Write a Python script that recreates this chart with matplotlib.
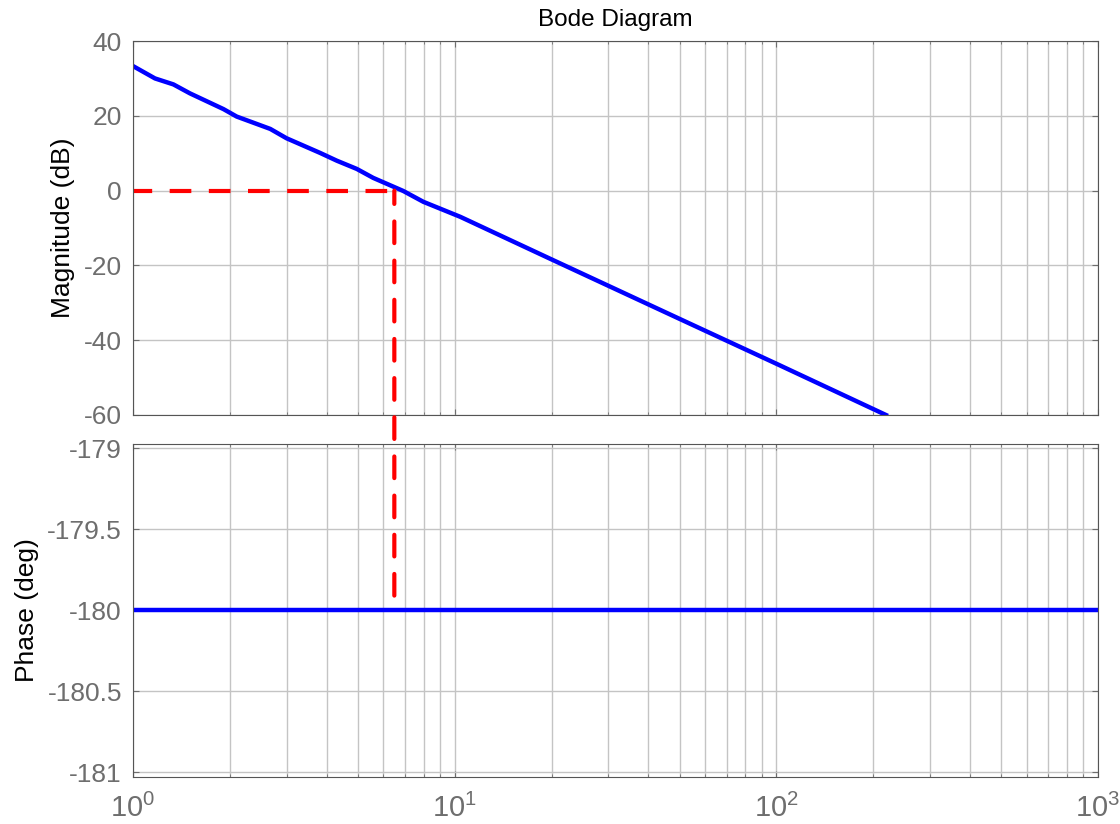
import numpy as np
import matplotlib
matplotlib.use('Agg')
import matplotlib.pyplot as plt
from matplotlib.patches import ConnectionPatch

plt.rcParams['font.family'] = ['Liberation Sans', 'DejaVu Sans']
plt.rcParams['mathtext.fontset'] = 'custom'
plt.rcParams['mathtext.rm'] = 'Liberation Sans'
plt.rcParams['axes.unicode_minus'] = False

# magnitude curve (rad/s, dB)
freq = [1.0, 1.17, 1.335, 1.503, 1.91, 2.1, 2.67, 3.0, 3.81, 4.3, 4.96,
        5.58, 6.92, 7.99, 10.4, 20.0, 50.0, 100.0, 219.0]
mag_db = [33.3, 30.0, 28.4, 26.0, 21.8, 19.8, 16.5, 14.0, 10.1, 8.0, 5.8,
          3.4, -0.1, -3.0, -7.0, -18.4, -34.3, -46.3, -60.0]
phase_freq = [1.0, 1000.0]
phase_deg = [-180.0, -180.0]

w_cross = 6.49  # crossover marker

tick_col = '#6e6e6e'
grid_col = '#c4c4c4'

fig = plt.figure(figsize=(11.2, 8.24), dpi=100)
ax1 = fig.add_axes([0.1188, 0.4964, 0.8616, 0.4538])
ax2 = fig.add_axes([0.1188, 0.0570, 0.8616, 0.4042])

for ax in (ax1, ax2):
    ax.set_xscale('log')
    ax.set_xlim(1, 1000)
    ax.grid(True, which='major', axis='both', color=grid_col, lw=1.0)
    ax.grid(True, which='minor', axis='x', color=grid_col, lw=1.0)
    ax.tick_params(which='both', direction='in', top=True, right=True,
                   colors=tick_col, length=4)
    ax.tick_params(axis='y', labelsize=19, pad=8)
    ax.tick_params(axis='x', labelsize=21, pad=12)
    ax.tick_params(which='minor', length=2.5)
    for s in ax.spines.values():
        s.set_color('#555555')
    ax.set_axisbelow(True)

ax1.plot(freq, mag_db, color='blue', lw=3.2)
ax1.set_ylim(-60, 40)
ax1.set_yticks([-60, -40, -20, 0, 20, 40])
ax1.tick_params(axis='x', which='both', labelbottom=False)
ax1.set_ylabel('Magnitude (dB)', fontsize=19, labelpad=6)
ax1.set_title('Bode Diagram', fontsize=17.5, pad=11)

ax2.plot(phase_freq, phase_deg, color='blue', lw=3.2)
ax2.set_ylim(-181.03, -178.975)
ax2.set_yticks([-181, -180.5, -180, -179.5, -179])
ax2.set_yticklabels(['-181', '-180.5', '-180', '-179.5', '-179'])
ax2.set_ylabel('Phase (deg)', fontsize=19, labelpad=6)

# crossover markers
ax1.plot([1, w_cross], [0, 0], color='red', lw=3, linestyle=(0.6, (5.2, 4.2)))
con = ConnectionPatch(xyA=(w_cross, 0), coordsA=ax1.transData,
                      xyB=(w_cross, -180), coordsB=ax2.transData,
                      color='red', lw=3, linestyle=(2.0, (5.2, 4.2)))
fig.add_artist(con)

fig.savefig('out.png', dpi=100)
